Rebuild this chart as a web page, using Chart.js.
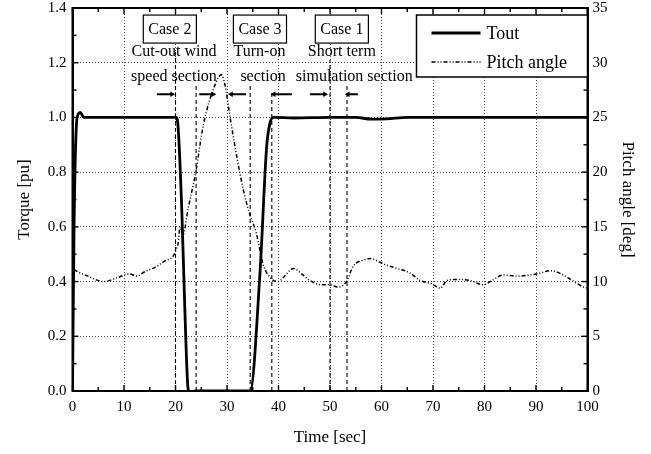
<!DOCTYPE html>
<html>
<head>
<meta charset="utf-8">
<script src="https://cdn.jsdelivr.net/npm/chart.js@4.4.0/dist/chart.umd.min.js"></script>
<style>
  body { margin: 0; background: #fff; }
  #wrap { width: 651px; height: 454px; }
</style>
</head>
<body>
<div id="wrap"><canvas id="myChart" width="651" height="454"></canvas></div>
<script>
// Tout [pu] vs time [sec]
var torqueTime  = [0, 0.3, 0.9, 1.5, 2.2, 10, 20.1, 20.5, 21.2, 21.8, 22.4, 22.8, 23.8, 30, 34.5, 36.4, 37.7, 38.35, 39, 43, 50, 55, 58, 61, 65, 80, 100];
var torqueValue = [0, 0.6, 1.0, 1.018, 1.0, 1.0, 1.0, 0.966, 0.674, 0.308, 0.016, -0.008, 0, 0, 0, 0.43, 0.893, 0.979, 1.0, 0.998, 1.0, 1.0, 0.994, 0.995, 1.0, 1.0, 1.0];

// Pitch angle [deg] vs time [sec]
var pitchTime  = [0.3, 1, 3, 6, 9, 11, 12.5, 14, 16, 18, 19.5, 20.1, 20.5, 20.9, 21.4, 22.5, 23.9, 25.4, 27.7, 28.9, 29.6, 30.6, 32.5, 34, 35.7, 37, 38.3, 40, 41, 42.9, 44.5, 46.1, 48.4, 50, 51.6, 53.2, 54.5, 56.8, 57.8, 60.4, 63, 65.5, 67.5, 69.7, 71.4, 72.7, 74.6, 77.2, 79.8, 81.1, 83.7, 86.3, 90.1, 93, 95.3, 99.2, 100];
var pitchValue = [11.1, 10.9, 10.5, 10.0, 10.4, 10.7, 10.5, 10.9, 11.3, 11.9, 12.3, 12.9, 13.5, 15.0, 14.2, 16.8, 19.9, 24.3, 28.0, 28.9, 28.0, 25.0, 19.9, 16.8, 14.4, 11.6, 10.4, 10.0, 10.4, 11.2, 10.7, 10.1, 9.7, 9.7, 9.5, 10.0, 11.4, 12.0, 12.1, 11.6, 11.2, 10.8, 10.1, 9.8, 9.4, 10.1, 10.2, 10.1, 9.7, 10.0, 10.6, 10.5, 10.7, 11.0, 10.6, 9.5, 9.4];

// dashed section boundaries (time, top in pu)
var sectionTime = [20, 24, 34.5, 38.7, 50, 53.3];
var sectionTop  = [1.24, 1.12, 1.12, 1.1, 1.21, 1.12];

// small arrows above the curves (from, to in sec)
var arrowFrom = [16.4, 24.6, 33.7, 42.6, 46.1, 55.4];
var arrowTo   = [19.3, 27.3, 30.8, 39.1, 49.0, 53.5];
var arrowLevel = 1.085;

var caseLabels = ['Case 2', 'Case 3', 'Case 1'];
var caseTimes  = [18.9, 36.4, 52.3];
var sectionText = [['Cut-out wind', 'speed section'], ['Turn-on', 'section'], ['Short term', 'simulation section']];
var sectionTextTime = [[19.7, 19.7], [36.3, 37.0], [52.3, 54.7]];

var serif = "'Liberation Serif', 'Times New Roman', serif";

function pts(xs, ys) {
  return xs.map(function (x, i) { return { x: x, y: ys[i] }; });
}

var datasets = [
  {
    label: 'Tout', data: pts(torqueTime, torqueValue), yAxisID: 'y',
    borderColor: '#000', borderWidth: 2.8, pointRadius: 0, cubicInterpolationMode: 'monotone'
  },
  {
    label: 'Pitch angle', data: pts(pitchTime, pitchValue), yAxisID: 'y2',
    borderColor: '#000', borderWidth: 1.5, borderDash: [4, 2, 1, 2, 1, 2], pointRadius: 0,
    cubicInterpolationMode: 'monotone'
  }
];

sectionTime.forEach(function (t, i) {
  datasets.push({
    label: 'section', data: [{ x: t, y: 0 }, { x: t, y: sectionTop[i] }], yAxisID: 'y',
    borderColor: '#000', borderWidth: 1.1, borderDash: [4, 3], pointRadius: 0
  });
});

arrowFrom.forEach(function (f, i) {
  var right = arrowTo[i] > f;
  datasets.push({
    label: 'arrow', data: [{ x: f, y: arrowLevel }, { x: arrowTo[i], y: arrowLevel }], yAxisID: 'y',
    borderColor: '#000', borderWidth: 2, backgroundColor: '#000',
    pointRadius: [0, 3.2], pointStyle: 'triangle', pointRotation: right ? 90 : -90, pointBorderWidth: 0
  });
});

var extras = {
  id: 'extras',
  afterDatasetsDraw: function (chart) {
    var ctx = chart.ctx, a = chart.chartArea;
    var x = chart.scales.x, y = chart.scales.y, y2 = chart.scales.y2;
    ctx.save();
    ctx.strokeStyle = '#000';

    // inward ticks
    ctx.lineWidth = 1.4;
    for (var t = 0; t <= 100; t += 5) {
      var px = x.getPixelForValue(t), len = t % 10 === 0 ? 6 : 4;
      ctx.beginPath();
      ctx.moveTo(px, a.bottom); ctx.lineTo(px, a.bottom - len);
      ctx.moveTo(px, a.top); ctx.lineTo(px, a.top + len);
      ctx.stroke();
    }
    for (var k = 0; k <= 14; k++) {
      var py = y.getPixelForValue(k / 10), l1 = k % 2 === 0 ? 6 : 4;
      ctx.beginPath(); ctx.moveTo(a.left, py); ctx.lineTo(a.left + l1, py); ctx.stroke();
    }
    for (var d = 0; d <= 35; d += 2.5) {
      var qy = y2.getPixelForValue(d), l2 = d % 5 === 0 ? 6 : 4;
      ctx.beginPath(); ctx.moveTo(a.right, qy); ctx.lineTo(a.right - l2, qy); ctx.stroke();
    }

    // frame
    ctx.lineWidth = 2;
    ctx.strokeRect(a.left, a.top, a.right - a.left, a.bottom - a.top);

    // case boxes and section notes
    ctx.fillStyle = '#000';
    ctx.textAlign = 'center';
    ctx.textBaseline = 'middle';
    ctx.font = '16px ' + serif;
    caseLabels.forEach(function (c, i) {
      var cx = x.getPixelForValue(caseTimes[i]), cy = y.getPixelForValue(1.323);
      var w = ctx.measureText(c).width + 10;
      ctx.fillStyle = '#fff';
      ctx.fillRect(cx - w / 2, cy - 14, w, 28);
      ctx.lineWidth = 1.2;
      ctx.strokeRect(cx - w / 2, cy - 14, w, 28);
      ctx.fillStyle = '#000';
      ctx.fillText(c, cx, cy + 1);
    });
    sectionText.forEach(function (lines, i) {
      ctx.fillText(lines[0], x.getPixelForValue(sectionTextTime[i][0]), y.getPixelForValue(1.2395));
      ctx.fillText(lines[1], x.getPixelForValue(sectionTextTime[i][1]), y.getPixelForValue(1.148));
    });

    // legend
    var lx = a.right - 171, ly = a.top + 7, lw = 171, lh = 62;
    ctx.fillStyle = '#fff';
    ctx.fillRect(lx, ly, lw, lh);
    ctx.lineWidth = 1.5;
    ctx.strokeRect(lx, ly, lw, lh);
    ctx.textAlign = 'left';
    ctx.font = '18px ' + serif;
    [0, 1].forEach(function (i) {
      var ds = chart.data.datasets[i];
      var yy = ly + (i === 0 ? 18 : 47);
      ctx.beginPath();
      ctx.strokeStyle = ds.borderColor;
      ctx.lineWidth = ds.borderWidth;
      ctx.setLineDash(ds.borderDash || []);
      ctx.moveTo(lx + 15, yy); ctx.lineTo(lx + 64, yy);
      ctx.stroke();
      ctx.setLineDash([]);
      ctx.fillStyle = '#000';
      ctx.fillText(ds.label, lx + 70, yy + 1);
    });
    ctx.restore();
  }
};

var tickFont = { family: serif, size: 15 };
var titleFont = { family: serif, size: 17 };

function fitVertical(width) {
  return function (s) {
    s.width = width;
    s.paddingTop = 8;
    s.paddingBottom = 0;
  };
}

var ctx = document.getElementById('myChart').getContext('2d');
var myChart = new Chart(ctx, {
  type: 'line',
  data: { datasets: datasets },
  options: {
    responsive: false,
    animation: false,
    layout: { padding: 0 },
    plugins: { legend: { display: false }, tooltip: { enabled: false } },
    scales: {
      x: {
        type: 'linear', min: 0, max: 100,
        ticks: { stepSize: 10, color: '#000', font: tickFont, padding: 7, maxRotation: 0 },
        grid: { color: '#444', lineWidth: 1, drawTicks: false },
        border: { color: '#000', width: 2, dash: [1, 2] },
        title: { display: true, text: 'Time [sec]', color: '#000', font: titleFont, padding: { top: 0, bottom: 6 } },
        afterFit: function (s) { s.height = 63; }
      },
      y: {
        position: 'left', min: 0, max: 1.4,
        ticks: { stepSize: 0.2, color: '#000', font: tickFont, padding: 6, callback: function (v) { return v.toFixed(1); } },
        grid: { color: '#444', lineWidth: 1, drawTicks: false },
        border: { color: '#000', width: 2, dash: [1, 2] },
        title: { display: true, text: 'Torque [pu]', color: '#000', font: titleFont, padding: { top: 14, bottom: 0 } },
        afterFit: fitVertical(72.5)
      },
      y2: {
        position: 'right', min: 0, max: 35,
        ticks: { stepSize: 5, color: '#000', font: tickFont, padding: 5 },
        grid: { drawOnChartArea: false, drawTicks: false },
        border: { color: '#000', width: 2 },
        title: { display: true, text: 'Pitch angle [deg]', color: '#000', font: titleFont, padding: { top: 13, bottom: 0 } },
        afterFit: fitVertical(63.5)
      }
    }
  },
  plugins: [extras]
});
</script>
</body>
</html>
